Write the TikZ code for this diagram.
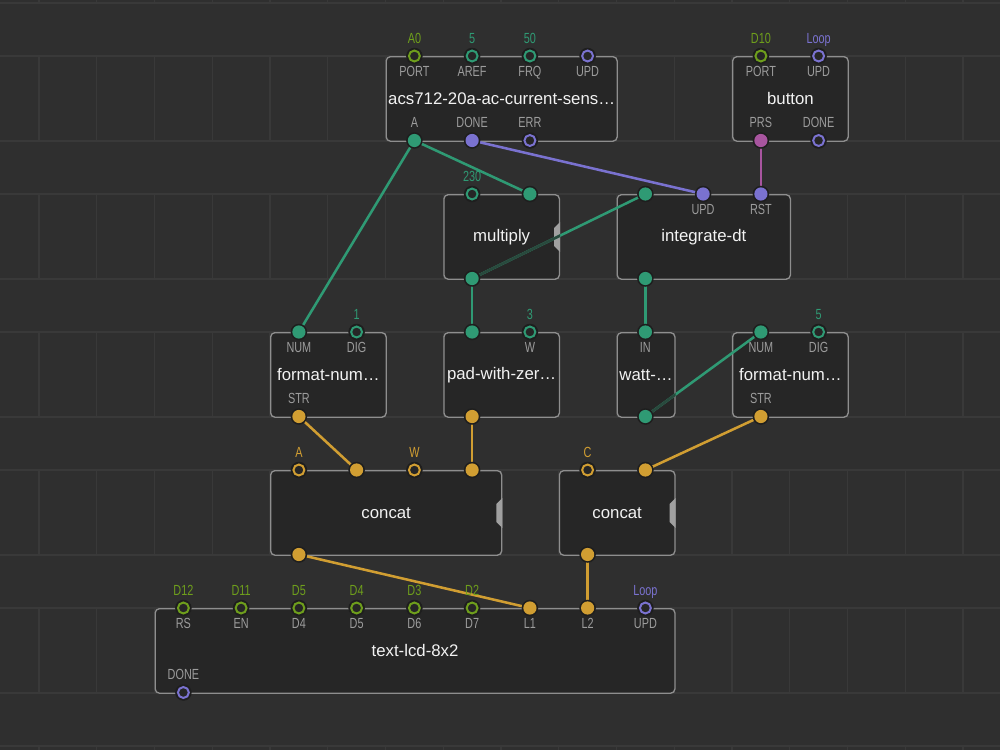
\documentclass[tikz,border=0pt]{standalone}
\usepackage{fontspec}
\setmainfont{Liberation Sans}
\newfontfamily\pinfont[FakeStretch=0.74]{Liberation Sans}
\usetikzlibrary{calc}
\definecolor{bg}{HTML}{2F2F2F}
\definecolor{gridc}{HTML}{393939}
\definecolor{nodefill}{HTML}{262626}
\definecolor{nodeborder}{HTML}{8E8E8E}
\definecolor{halo}{HTML}{1E1E1E}
\definecolor{cnum}{HTML}{2F9A74}
\definecolor{cport}{HTML}{6E9E1C}
\definecolor{cpulse}{HTML}{7A72D0}
\definecolor{cstr}{HTML}{D19E32}
\definecolor{cbool}{HTML}{A8559F}
\definecolor{labelc}{HTML}{9C9C9C}
\definecolor{titlec}{HTML}{F2F2F2}
\definecolor{tabc}{HTML}{A0A0A0}
\colorlet{cdim}{cnum!30!nodefill}
\pgfdeclarelayer{back}
\pgfdeclarelayer{boxes}
\pgfdeclarelayer{wires}
\pgfsetlayers{back,boxes,wires,main}
\tikzset{
  xodnode/.style={draw=nodeborder, fill=nodefill, line width=1pt, rounded corners=3.2pt,
    inner sep=0pt, anchor=north west, minimum height=63.4pt, text=titlec,
    font=\fontsize{12.6}{14}\selectfont},
  link/.style={line width=1.9pt, draw=#1},
  freepin/.style={circle, inner sep=0pt, minimum size=8.2pt, draw=#1, line width=1.5pt, fill=nodefill},
  fullpin/.style={circle, inner sep=0pt, minimum size=9.9pt, fill=#1},
  pinlabel/.style={text=labelc, font=\pinfont\fontsize{11}{13}\selectfont, inner sep=0pt, anchor=mid},
  vallabel/.style={text=#1, font=\pinfont\fontsize{11}{13}\selectfont, inner sep=0pt, anchor=mid},
  gridline/.style={draw=gridc, line width=1.1pt},
  vtab/.style={fill=tabc},
}
\newcommand\xpin[3]{\fill[halo] (#2) circle[radius=6.2pt]; \node[#3] (#1) at (#2) {};}
\newcommand\lbelow[2]{\node[pinlabel] (#1-l) at ([yshift=-13pt]#1.center) {#2};}
\newcommand\labove[2]{\node[pinlabel] (#1-l) at ([yshift=12.2pt]#1.center) {#2};}
\newcommand\lval[3]{\node[vallabel=#2] (#1-v) at ([yshift=11.8pt]#1.center) {#3};}
\newcommand\xbox[5]{\node[xodnode, minimum width=#4] (#1) at (#2,#3) {#5};}
\newcommand\xtab[1]{\fill[vtab] ([yshift=11.25pt]#1.east) -- ([shift={(-4.5pt,6.75pt)}]#1.east) -- ([shift={(-4.5pt,-6.75pt)}]#1.east) -- ([yshift=-11.25pt]#1.east) -- cycle;}
\begin{document}
\begin{tikzpicture}[x=0.75pt,y=-0.75pt]
\useasboundingbox (0,0) rectangle (1000,750);
\begin{pgfonlayer}{back}
  \fill[bg] (0,0) rectangle (1000,750);
  \foreach \r in {-1,...,5} {
    \draw[gridline] (0,{56+138*\r}) -- (1000,{56+138*\r});
    \draw[gridline] (0,{141+138*\r}) -- (1000,{141+138*\r});
    \foreach \c in {-1,...,17} {
      \draw[gridline] ({39+57.75*\c},{56+138*\r}) -- ({39+57.75*\c},{141+138*\r});
    }
  }
\end{pgfonlayer}

\begin{pgfonlayer}{boxes}
  \xbox{acs}{385.5}{56}{173.25pt}{acs712-20a-ac-current-sens…}
  \xbox{btn}{732}{56}{86.63pt}{button}
  \xbox{mul}{443.25}{194}{86.63pt}{multiply}
  \xbox{intg}{616.5}{194}{129.94pt}{integrate-dt}
  \xbox{fmta}{270}{332}{86.63pt}{format-num…}
  \xbox{pad}{443.25}{332}{86.63pt}{pad-with-zer…}
  \xbox{watt}{616.5}{332}{43.31pt}{watt-…}
  \xbox{fmtb}{732}{332}{86.63pt}{format-num…}
  \xbox{cata}{270}{470}{173.25pt}{concat}
  \xbox{catb}{558.75}{470}{86.63pt}{concat}
  \xbox{lcd}{154.5}{608}{389.81pt}{text-lcd-8x2}
  \xtab{mul}
  \xtab{cata}
  \xtab{catb}
\end{pgfonlayer}

% acs712
\xpin{acsPORT}{414.4,56}{freepin=cport}   \lval{acsPORT}{cport}{A0} \lbelow{acsPORT}{PORT}
\xpin{acsAREF}{472.1,56}{freepin=cnum}    \lval{acsAREF}{cnum}{5}   \lbelow{acsAREF}{AREF}
\xpin{acsFRQ}{529.9,56}{freepin=cnum}     \lval{acsFRQ}{cnum}{50}   \lbelow{acsFRQ}{FRQ}
\xpin{acsUPD}{587.6,56}{freepin=cpulse}   \lbelow{acsUPD}{UPD}
\xpin{acsA}{414.4,140.5}{fullpin=cnum}    \labove{acsA}{A}
\xpin{acsDONE}{472.1,140.5}{fullpin=cpulse} \labove{acsDONE}{DONE}
\xpin{acsERR}{529.9,140.5}{freepin=cpulse} \labove{acsERR}{ERR}
% button
\xpin{btnPORT}{760.9,56}{freepin=cport}   \lval{btnPORT}{cport}{D10} \lbelow{btnPORT}{PORT}
\xpin{btnUPD}{818.6,56}{freepin=cpulse}   \lval{btnUPD}{cpulse}{Loop} \lbelow{btnUPD}{UPD}
\xpin{btnPRS}{760.9,140.5}{fullpin=cbool} \labove{btnPRS}{PRS}
\xpin{btnDONE}{818.6,140.5}{freepin=cpulse} \labove{btnDONE}{DONE}
% multiply
\xpin{mulA}{472.1,194}{freepin=cnum}      \lval{mulA}{cnum}{230}
\xpin{mulB}{529.9,194}{fullpin=cnum}
\xpin{mulOut}{472.1,278.5}{fullpin=cnum}
% integrate-dt
\xpin{intX}{645.4,194}{fullpin=cnum}
\xpin{intUPD}{703.1,194}{fullpin=cpulse}  \lbelow{intUPD}{UPD}
\xpin{intRST}{760.9,194}{fullpin=cpulse}  \lbelow{intRST}{RST}
\xpin{intOut}{645.4,278.5}{fullpin=cnum}
% format-number 1
\xpin{faNUM}{298.9,332}{fullpin=cnum}     \lbelow{faNUM}{NUM}
\xpin{faDIG}{356.6,332}{freepin=cnum}     \lval{faDIG}{cnum}{1} \lbelow{faDIG}{DIG}
\xpin{faSTR}{298.9,416.5}{fullpin=cstr}   \labove{faSTR}{STR}
% pad-with-zeroes
\xpin{padX}{472.1,332}{fullpin=cnum}
\xpin{padW}{529.9,332}{freepin=cnum}      \lval{padW}{cnum}{3} \lbelow{padW}{W}
\xpin{padOut}{472.1,416.5}{fullpin=cstr}
% watt
\xpin{wattIN}{645.4,332}{fullpin=cnum}    \lbelow{wattIN}{IN}
\xpin{wattOut}{645.4,416.5}{fullpin=cnum}
% format-number 2
\xpin{fbNUM}{760.9,332}{fullpin=cnum}     \lbelow{fbNUM}{NUM}
\xpin{fbDIG}{818.6,332}{freepin=cnum}     \lval{fbDIG}{cnum}{5} \lbelow{fbDIG}{DIG}
\xpin{fbSTR}{760.9,416.5}{fullpin=cstr}   \labove{fbSTR}{STR}
% concat 1
\xpin{caA}{298.9,470}{freepin=cstr}       \lval{caA}{cstr}{A}
\xpin{caB}{356.6,470}{fullpin=cstr}
\xpin{caC}{414.4,470}{freepin=cstr}       \lval{caC}{cstr}{W}
\xpin{caD}{472.1,470}{fullpin=cstr}
\xpin{caOut}{298.9,554.5}{fullpin=cstr}
% concat 2
\xpin{cbA}{587.6,470}{freepin=cstr}       \lval{cbA}{cstr}{C}
\xpin{cbB}{645.4,470}{fullpin=cstr}
\xpin{cbOut}{587.6,554.5}{fullpin=cstr}
% text-lcd
\xpin{lcdRS}{183.4,608}{freepin=cport}    \lval{lcdRS}{cport}{D12} \lbelow{lcdRS}{RS}
\xpin{lcdEN}{241.1,608}{freepin=cport}    \lval{lcdEN}{cport}{D11} \lbelow{lcdEN}{EN}
\xpin{lcdDa}{298.9,608}{freepin=cport}    \lval{lcdDa}{cport}{D5} \lbelow{lcdDa}{D4}
\xpin{lcdDb}{356.6,608}{freepin=cport}    \lval{lcdDb}{cport}{D4} \lbelow{lcdDb}{D5}
\xpin{lcdDc}{414.4,608}{freepin=cport}    \lval{lcdDc}{cport}{D3} \lbelow{lcdDc}{D6}
\xpin{lcdDd}{472.1,608}{freepin=cport}    \lval{lcdDd}{cport}{D2} \lbelow{lcdDd}{D7}
\xpin{lcdL1}{529.9,608}{fullpin=cstr}     \lbelow{lcdL1}{L1}
\xpin{lcdL2}{587.6,608}{fullpin=cstr}     \lbelow{lcdL2}{L2}
\xpin{lcdUPD}{645.4,608}{freepin=cpulse}  \lval{lcdUPD}{cpulse}{Loop} \lbelow{lcdUPD}{UPD}
\xpin{lcdDONE}{183.4,692.5}{freepin=cpulse} \labove{lcdDONE}{DONE}

\begin{pgfonlayer}{wires}
  \draw[link=cnum] (acsA.center) -- (faNUM.center);
  \draw[link=cnum] (acsA.center) -- (mulB.center);
  \draw[link=cpulse] (acsDONE.center) -- (intUPD.center);
  \draw[link=cbool] (btnPRS.center) -- (intRST.center);
  \draw[link=cnum] (mulOut.center) -- (intX.center);
  \draw[link=cnum] (mulOut.center) -- (padX.center);
  \draw[link=cnum] (intOut.center) -- (wattIN.center);
  \draw[link=cnum] (wattOut.center) -- (fbNUM.center);
  \draw[link=cstr] (faSTR.center) -- (caB.center);
  \draw[link=cstr] (padOut.center) -- (caD.center);
  \draw[link=cstr] (fbSTR.center) -- (cbB.center);
  \draw[link=cstr] (caOut.center) -- (lcdL1.center);
  \draw[link=cstr] (cbOut.center) -- (lcdL2.center);
  \begin{scope}
    \clip (mul.south west) rectangle (mul.north east);
    \draw[link=cdim] (mulOut.center) -- (intX.center);
  \end{scope}
  \begin{scope}
    \clip (watt.south west) rectangle (watt.north east);
    \draw[link=cdim] (wattOut.center) -- (fbNUM.center);
  \end{scope}
\end{pgfonlayer}
\end{tikzpicture}
\end{document}
